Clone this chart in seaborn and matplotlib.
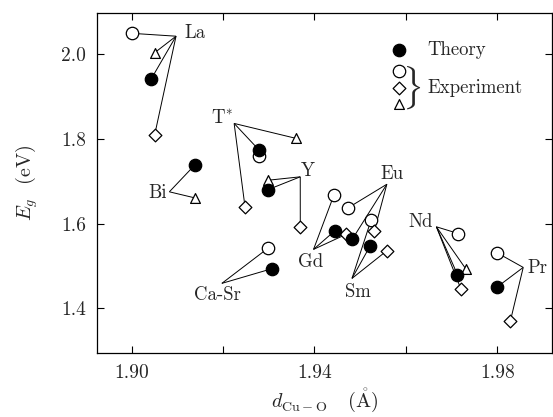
import numpy as np
import pandas as pd
import matplotlib
matplotlib.use("Agg")
import matplotlib.pyplot as plt
import seaborn as sns

# ---------------- data ----------------
theory_cmp = ["La", "Bi", "T*", "Y", "Ca-Sr", "Gd", "Eu", "Sm", "Nd", "Pr"]
theory_d = [1.9042, 1.9139, 1.9279, 1.9299, 1.9307, 1.9444, 1.9483, 1.9522, 1.9713, 1.9799]
theory_E = [1.941, 1.740, 1.774, 1.681, 1.494, 1.583, 1.564, 1.548, 1.480, 1.450]

circle_cmp = ["La", "T*", "Ca-Sr", "Gd", "Eu", "Sm", "Nd", "Pr"]
circle_d = [1.9000, 1.9279, 1.9299, 1.9443, 1.9474, 1.9524, 1.9715, 1.9799]
circle_E = [2.050, 1.760, 1.543, 1.669, 1.638, 1.609, 1.577, 1.532]

diamond_cmp = ["La", "T*", "Y", "Gd", "Eu", "Sm", "Nd", "Pr"]
diamond_d = [1.9050, 1.9248, 1.9369, 1.9469, 1.9531, 1.9558, 1.9721, 1.9829]
diamond_E = [1.809, 1.640, 1.593, 1.575, 1.583, 1.536, 1.445, 1.371]

triangle_cmp = ["La", "Bi", "T*", "Y", "Nd"]
triangle_d = [1.9050, 1.9139, 1.9359, 1.9299, 1.9731]
triangle_E = [2.004, 1.661, 1.802, 1.703, 1.494]

# label text and the point where its leader lines meet
label_names = ["La", "Bi", "T*", "Y", "Ca-Sr", "Gd", "Eu", "Sm", "Nd", "Pr"]
label_text = ["La", "Bi", "T$^{*}$", "Y", "Ca-Sr", "Gd", "Eu", "Sm", "Nd", "Pr"]
label_pos = [(1.9115, 2.0496), (1.90775, 1.6718), (1.92220, 1.8489), (1.93711, 1.7251),
             (1.91881, 1.4316), (1.93910, 1.5103), (1.95699, 1.7174), (1.94956, 1.4394),
             (1.96319, 1.6047), (1.98664, 1.4947)]
label_ha = ["left", "right", "right", "left", "center", "center", "center", "center", "center", "left"]
hub_pos = [(1.9097, 2.0432), (1.90824, 1.6756), (1.92242, 1.8371), (1.93689, 1.7110),
           (1.91973, 1.4593), (1.93980, 1.5396), (1.95585, 1.6935), (1.94822, 1.4711),
           (1.96670, 1.5929), (1.98570, 1.4970)]
skip_links = {("T*", "circle")}

# ---------------- frame ----------------
frames = []
for kind, c, d, e in [("theory", theory_cmp, theory_d, theory_E),
                      ("circle", circle_cmp, circle_d, circle_E),
                      ("diamond", diamond_cmp, diamond_d, diamond_E),
                      ("triangle", triangle_cmp, triangle_d, triangle_E)]:
    frames.append(pd.DataFrame({"compound": c, "d": d, "E": e, "kind": kind}))
df = pd.concat(frames, ignore_index=True)

sns.set_style("ticks")
plt.rcParams["font.family"] = ["cmr10", "DejaVu Serif"]
plt.rcParams["mathtext.fontset"] = "cm"
plt.rcParams["axes.unicode_minus"] = False
plt.rcParams["axes.formatter.use_mathtext"] = True

fig = plt.figure(figsize=(5.53, 4.17), dpi=100)
ax = fig.add_axes([97 / 553, (417 - 352.5) / 417, (552 - 97) / 553, (352.5 - 13) / 417])

# leader lines
for name, hub in zip(label_names, hub_pos):
    sub = df[df["compound"] == name]
    for _, r in sub.iterrows():
        if (name, r["kind"]) in skip_links:
            continue
        ax.plot([hub[0], r["d"]], [hub[1], r["E"]], color="black", lw=0.7, zorder=1,
                solid_capstyle="butt")

styles = {
    "theory": dict(marker="o", s=80, facecolor="black", edgecolor="black"),
    "circle": dict(marker="o", s=80, facecolor="white", edgecolor="black"),
    "diamond": dict(marker="D", s=42, facecolor="white", edgecolor="black"),
    "triangle": dict(marker="^", s=50, facecolor="white", edgecolor="black"),
}
order = ["circle", "diamond", "triangle", "theory"]
for kind in order:
    sub = df[df["kind"] == kind]
    st = styles[kind]
    sns.scatterplot(data=sub, x="d", y="E", ax=ax, marker=st["marker"], s=st["s"],
                    facecolor=st["facecolor"], edgecolor=st["edgecolor"], linewidth=0.9,
                    zorder=3, legend=False)

for txt, pos, ha in zip(label_text, label_pos, label_ha):
    ax.text(pos[0], pos[1], txt, ha=ha, va="center", fontsize=13.5, zorder=4)

# legend drawn by hand
lx = (399 - 97) / 455
for y, kind in [(0.891, "theory"), (0.829, "circle"), (0.779, "diamond"), (0.732, "triangle")]:
    st = styles[kind]
    ax.scatter([lx], [y], transform=ax.transAxes, marker=st["marker"], s=st["s"],
               facecolor=st["facecolor"], edgecolor=st["edgecolor"], linewidth=0.9,
               zorder=5, clip_on=False)
ax.text(0.727, 0.891, "Theory", transform=ax.transAxes, ha="left", va="center", fontsize=13.5)
ax.text(0.727, 0.779, "Experiment", transform=ax.transAxes, ha="left", va="center", fontsize=13.5)
ax.text(0.692, 0.781, r"$\}$", transform=ax.transAxes, ha="center", va="center", fontsize=26)

# axes
ax.set_xlim(1.8924, 1.9920)
ax.set_ylim(1.296, 2.098)
xt = [1.90, 1.92, 1.94, 1.96, 1.98]
ax.set_xticks(xt)
ax.set_xticklabels(["1.90", "", "1.94", "", "1.98"])
yt = [1.4, 1.6, 1.8, 2.0]
ax.set_yticks(yt)
ax.set_yticklabels(["1.4", "1.6", "1.8", "2.0"])
ax.tick_params(direction="in", top=True, right=True, length=5, width=0.8,
               labelsize=14, pad=8, color="black")
for sp in ax.spines.values():
    sp.set_linewidth(0.9)
    sp.set_color("black")
ax.set_xlabel(r"$d_{\mathrm{Cu}-\mathrm{O}}$   $(\mathring{\mathrm{A}})$", fontsize=14.5, labelpad=4)
ax.set_ylabel(r"$E_g$  (eV)", fontsize=14.5, labelpad=15)

fig.savefig("out.png", dpi=100)
